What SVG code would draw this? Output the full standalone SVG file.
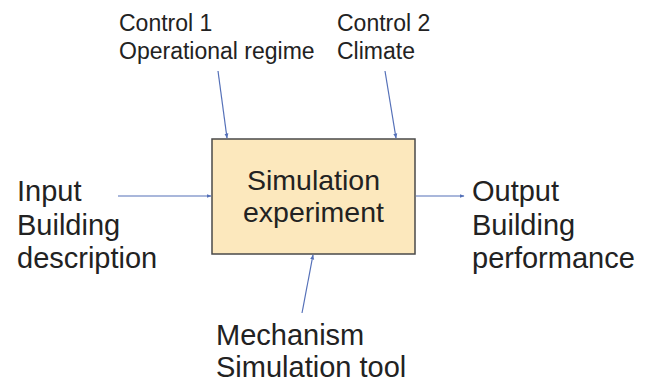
<svg xmlns="http://www.w3.org/2000/svg" width="649" height="385" viewBox="0 0 649 385">
  <style>
    text { font-family: "Liberation Sans", Arial, sans-serif; fill: #222222; }
    .lbl { font-size: 29px; }
    .mid { font-size: 28.5px; }
    .ctl { font-size: 23px; }
    .box { fill: #fce8bd; stroke: #4a4a4a; stroke-width: 1.5; }
    .arrow { stroke: #5470b8; stroke-width: 1.2; fill: none; marker-end: url(#head); }
  </style>
  <defs>
    <marker id="head" viewBox="0 0 10 10" refX="9" refY="5" markerWidth="5" markerHeight="5" orient="auto" markerUnits="userSpaceOnUse">
      <path d="M0,1 L10,5 L0,9 Z" fill="#5470b8"/>
    </marker>
  </defs>

  <g id="process">
    <rect class="box" x="212" y="139" width="203" height="115"/>
    <text class="mid" x="313.5" y="190" text-anchor="middle">Simulation</text>
    <text class="mid" x="313.5" y="222" text-anchor="middle">experiment</text>
  </g>

  <g id="control1">
    <text class="ctl" x="119" y="31">Control 1</text>
    <text class="ctl" x="119" y="59">Operational regime</text>
  </g>

  <g id="control2">
    <text class="ctl" x="337" y="31">Control 2</text>
    <text class="ctl" x="337" y="59">Climate</text>
  </g>

  <g id="input">
    <text class="lbl" x="17" y="201">Input</text>
    <text class="lbl" x="17" y="235">Building</text>
    <text class="lbl" x="17" y="268">description</text>
  </g>

  <g id="output">
    <text class="lbl" x="472" y="201">Output</text>
    <text class="lbl" x="472" y="235">Building</text>
    <text class="lbl" x="472" y="268">performance</text>
  </g>

  <g id="mechanism">
    <text class="lbl" x="216" y="345">Mechanism</text>
    <text class="lbl" x="216" y="377">Simulation tool</text>
  </g>

  <g id="connectors">
    <line class="arrow" x1="218" y1="71" x2="227" y2="138"/>
    <line class="arrow" x1="385" y1="71" x2="396" y2="138"/>
    <line class="arrow" x1="118" y1="196" x2="211" y2="196"/>
    <line class="arrow" x1="416" y1="196" x2="464" y2="196"/>
    <line class="arrow" x1="302" y1="313" x2="313" y2="255"/>
  </g>
</svg>
